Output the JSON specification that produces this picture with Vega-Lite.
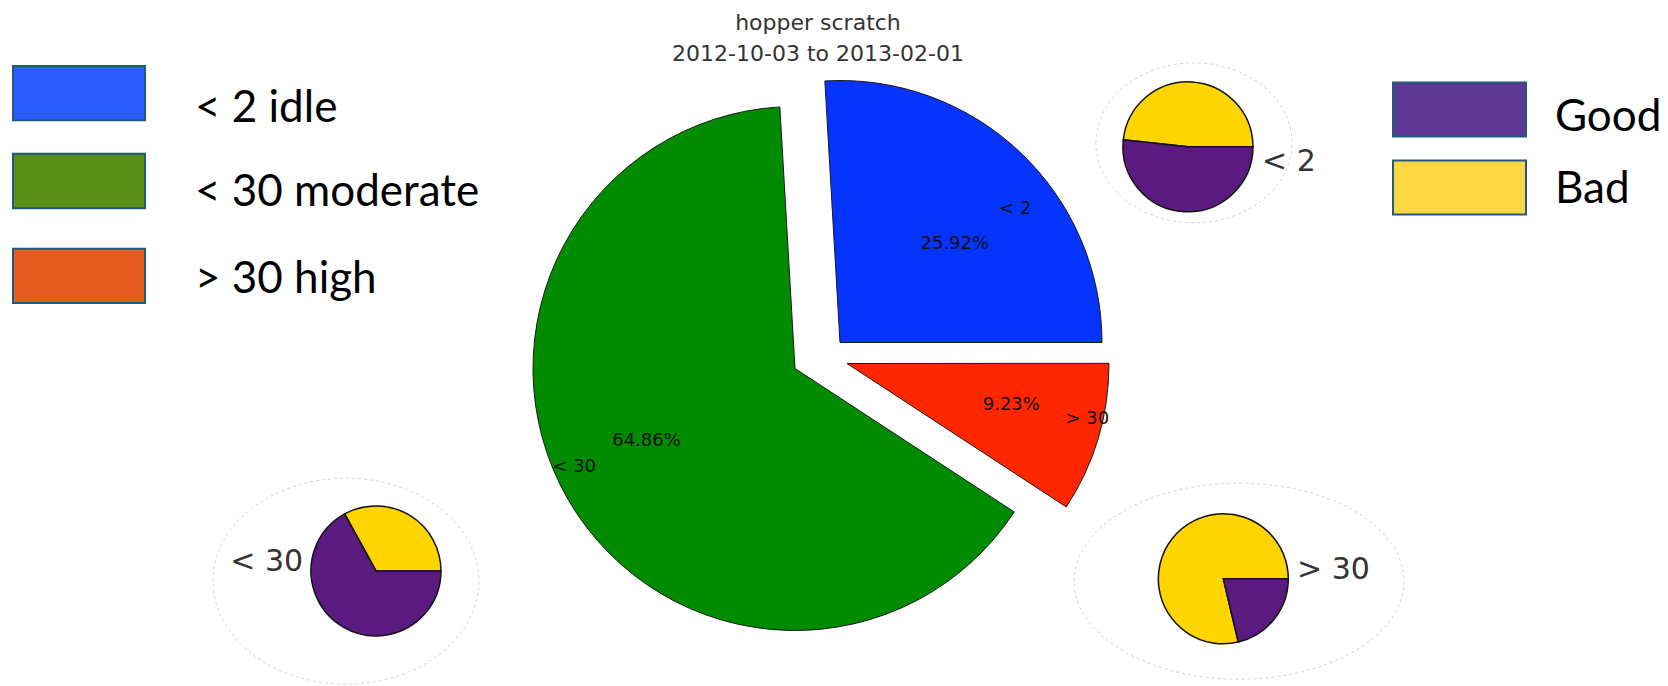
{
  "$schema": "https://vega.github.io/schema/vega-lite/v6.json",
  "width": 1668,
  "height": 686,
  "autosize": {"type": "fit", "contains": "padding"},
  "padding": 0,
  "background": "white",
  "config": {"view": {"stroke": null}},
  "datasets": {
    "main": [
      {"chart": "main", "slice": "< 2", "pct": 25.92, "pctLabel": "25.92%"},
      {"chart": "main", "slice": "< 30", "pct": 64.86, "pctLabel": "64.86%"},
      {"chart": "main", "slice": "> 30", "pct": 9.23, "pctLabel": "9.23%"}
    ],
    "sub": [
      {"chart": "< 2", "slice": "Bad", "pct": 48.3},
      {"chart": "< 2", "slice": "Good", "pct": 51.7},
      {"chart": "< 30", "slice": "Bad", "pct": 33.0},
      {"chart": "< 30", "slice": "Good", "pct": 67.0},
      {"chart": "> 30", "slice": "Bad", "pct": 78.7},
      {"chart": "> 30", "slice": "Good", "pct": 21.3}
    ],
    "legend": [
      {"leg": "L", "label": "< 2 idle"},
      {"leg": "L", "label": "< 30 moderate"},
      {"leg": "L", "label": "> 30 high"},
      {"leg": "R", "label": "Good"},
      {"leg": "R", "label": "Bad"}
    ],
    "title": [
      {"t": "title", "line": "hopper scratch"},
      {"t": "title", "line": "2012-10-03 to 2013-02-01"}
    ]
  },
  "layer": [
    {
      "data": {"name": "sub"},
      "transform": [{"filter": "datum.chart === '< 2' && datum.slice === 'Bad'"}],
      "mark": {"type": "point", "shape": "M-1,0A1,0.816,0,1,1,1,0A1,0.816,0,1,1,-1,0Z", "size": 38416, "filled": false, "stroke": "#d4d4d4", "strokeWidth": 1, "strokeDash": [3, 3], "opacity": 1},
      "encoding": {
        "x": {"field": "chart", "type": "nominal", "scale": {"type": "point", "align": 0.7158, "padding": 0}, "axis": null},
        "y": {"field": "chart", "type": "nominal", "scale": {"type": "point", "align": 0.2085, "padding": 0}, "axis": null}
      }
    },
    {
      "data": {"name": "sub"},
      "transform": [{"filter": "datum.chart === '< 30' && datum.slice === 'Bad'"}],
      "mark": {"type": "point", "shape": "M-1,0A1,0.774,0,1,1,1,0A1,0.774,0,1,1,-1,0Z", "size": 70756, "filled": false, "stroke": "#d4d4d4", "strokeWidth": 1, "strokeDash": [3, 3], "opacity": 1},
      "encoding": {
        "x": {"field": "chart", "type": "nominal", "scale": {"type": "point", "align": 0.2074, "padding": 0}, "axis": null},
        "y": {"field": "chart", "type": "nominal", "scale": {"type": "point", "align": 0.8484, "padding": 0}, "axis": null}
      }
    },
    {
      "data": {"name": "sub"},
      "transform": [{"filter": "datum.chart === '> 30' && datum.slice === 'Bad'"}],
      "mark": {"type": "point", "shape": "M-1,0A1,0.594,0,1,1,1,0A1,0.594,0,1,1,-1,0Z", "size": 108900, "filled": false, "stroke": "#d4d4d4", "strokeWidth": 1, "strokeDash": [3, 3], "opacity": 1},
      "encoding": {
        "x": {"field": "chart", "type": "nominal", "scale": {"type": "point", "align": 0.7428, "padding": 0}, "axis": null},
        "y": {"field": "chart", "type": "nominal", "scale": {"type": "point", "align": 0.8484, "padding": 0}, "axis": null}
      }
    },
    {
      "data": {"name": "main"},
      "mark": {"type": "arc", "radius": 262, "stroke": "#1a1a1a", "strokeWidth": 1, "xOffset": 20, "yOffset": -15},
      "encoding": {
        "theta": {"field": "pct", "type": "quantitative", "stack": true, "scale": {"domain": [0, 100], "range": [1.5708, -4.7124]}},
        "order": {"field": "slice", "type": "ordinal", "sort": "ascending"},
        "x": {"field": "chart", "type": "nominal", "scale": {"type": "point", "align": 0.4916, "padding": 0}, "axis": null},
        "y": {"field": "chart", "type": "nominal", "scale": {"type": "point", "align": 0.5219, "padding": 0}, "axis": null},
        "color": {"field": "slice", "type": "nominal", "scale": {"domain": ["< 2", "< 30", "> 30"], "range": ["#0533ff", "#008b00", "#ff2600"]}, "legend": null},
        "opacity": {"condition": {"test": "datum.slice === '< 2'", "value": 1}, "value": 0}
      }
    },
    {
      "data": {"name": "main"},
      "mark": {"type": "arc", "radius": 262, "stroke": "#1a1a1a", "strokeWidth": 1, "xOffset": -25, "yOffset": 11},
      "encoding": {
        "theta": {"field": "pct", "type": "quantitative", "stack": true, "scale": {"domain": [0, 100], "range": [1.5708, -4.7124]}},
        "order": {"field": "slice", "type": "ordinal", "sort": "ascending"},
        "x": {"field": "chart", "type": "nominal", "scale": {"type": "point", "align": 0.4916, "padding": 0}, "axis": null},
        "y": {"field": "chart", "type": "nominal", "scale": {"type": "point", "align": 0.5219, "padding": 0}, "axis": null},
        "color": {"field": "slice", "type": "nominal", "scale": {"domain": ["< 2", "< 30", "> 30"], "range": ["#0533ff", "#008b00", "#ff2600"]}, "legend": null},
        "opacity": {"condition": {"test": "datum.slice === '< 30'", "value": 1}, "value": 0}
      }
    },
    {
      "data": {"name": "main"},
      "mark": {"type": "arc", "radius": 262, "stroke": "#1a1a1a", "strokeWidth": 1, "xOffset": 27, "yOffset": 6},
      "encoding": {
        "theta": {"field": "pct", "type": "quantitative", "stack": true, "scale": {"domain": [0, 100], "range": [1.5708, -4.7124]}},
        "order": {"field": "slice", "type": "ordinal", "sort": "ascending"},
        "x": {"field": "chart", "type": "nominal", "scale": {"type": "point", "align": 0.4916, "padding": 0}, "axis": null},
        "y": {"field": "chart", "type": "nominal", "scale": {"type": "point", "align": 0.5219, "padding": 0}, "axis": null},
        "color": {"field": "slice", "type": "nominal", "scale": {"domain": ["< 2", "< 30", "> 30"], "range": ["#0533ff", "#008b00", "#ff2600"]}, "legend": null},
        "opacity": {"condition": {"test": "datum.slice === '> 30'", "value": 1}, "value": 0}
      }
    },
    {
      "data": {"name": "main"},
      "mark": {"type": "text", "radius": 160, "font": "DejaVu Sans", "fontSize": 18, "color": "#111", "xOffset": 25, "yOffset": 3},
      "encoding": {
        "theta": {"field": "pct", "type": "quantitative", "stack": true, "scale": {"domain": [0, 100], "range": [1.5708, -4.7124]}},
        "order": {"field": "slice", "type": "ordinal", "sort": "ascending"},
        "x": {"field": "chart", "type": "nominal", "scale": {"type": "point", "align": 0.4916, "padding": 0}, "axis": null},
        "y": {"field": "chart", "type": "nominal", "scale": {"type": "point", "align": 0.5219, "padding": 0}, "axis": null},
        "text": {"field": "pctLabel"},
        "opacity": {"condition": {"test": "datum.slice === '< 2'", "value": 1}, "value": 0}
      }
    },
    {
      "data": {"name": "main"},
      "mark": {"type": "text", "radius": 160, "font": "DejaVu Sans", "fontSize": 18, "color": "#111", "xOffset": -35, "yOffset": 3},
      "encoding": {
        "theta": {"field": "pct", "type": "quantitative", "stack": true, "scale": {"domain": [0, 100], "range": [1.5708, -4.7124]}},
        "order": {"field": "slice", "type": "ordinal", "sort": "ascending"},
        "x": {"field": "chart", "type": "nominal", "scale": {"type": "point", "align": 0.4916, "padding": 0}, "axis": null},
        "y": {"field": "chart", "type": "nominal", "scale": {"type": "point", "align": 0.5219, "padding": 0}, "axis": null},
        "text": {"field": "pctLabel"},
        "opacity": {"condition": {"test": "datum.slice === '< 30'", "value": 1}, "value": 0}
      }
    },
    {
      "data": {"name": "main"},
      "mark": {"type": "text", "radius": 160, "font": "DejaVu Sans", "fontSize": 18, "color": "#111", "xOffset": 38, "yOffset": 2},
      "encoding": {
        "theta": {"field": "pct", "type": "quantitative", "stack": true, "scale": {"domain": [0, 100], "range": [1.5708, -4.7124]}},
        "order": {"field": "slice", "type": "ordinal", "sort": "ascending"},
        "x": {"field": "chart", "type": "nominal", "scale": {"type": "point", "align": 0.4916, "padding": 0}, "axis": null},
        "y": {"field": "chart", "type": "nominal", "scale": {"type": "point", "align": 0.5219, "padding": 0}, "axis": null},
        "text": {"field": "pctLabel"},
        "opacity": {"condition": {"test": "datum.slice === '> 30'", "value": 1}, "value": 0}
      }
    },
    {
      "data": {"name": "main"},
      "mark": {"type": "text", "radius": 232, "font": "DejaVu Sans", "fontSize": 18, "color": "#111", "xOffset": 36, "yOffset": 20},
      "encoding": {
        "theta": {"field": "pct", "type": "quantitative", "stack": true, "scale": {"domain": [0, 100], "range": [1.5708, -4.7124]}},
        "order": {"field": "slice", "type": "ordinal", "sort": "ascending"},
        "x": {"field": "chart", "type": "nominal", "scale": {"type": "point", "align": 0.4916, "padding": 0}, "axis": null},
        "y": {"field": "chart", "type": "nominal", "scale": {"type": "point", "align": 0.5219, "padding": 0}, "axis": null},
        "text": {"field": "slice"},
        "opacity": {"condition": {"test": "datum.slice === '< 2'", "value": 1}, "value": 0}
      }
    },
    {
      "data": {"name": "main"},
      "mark": {"type": "text", "radius": 232, "font": "DejaVu Sans", "fontSize": 18, "color": "#111", "xOffset": -45, "yOffset": -7},
      "encoding": {
        "theta": {"field": "pct", "type": "quantitative", "stack": true, "scale": {"domain": [0, 100], "range": [1.5708, -4.7124]}},
        "order": {"field": "slice", "type": "ordinal", "sort": "ascending"},
        "x": {"field": "chart", "type": "nominal", "scale": {"type": "point", "align": 0.4916, "padding": 0}, "axis": null},
        "y": {"field": "chart", "type": "nominal", "scale": {"type": "point", "align": 0.5219, "padding": 0}, "axis": null},
        "text": {"field": "slice"},
        "opacity": {"condition": {"test": "datum.slice === '< 30'", "value": 1}, "value": 0}
      }
    },
    {
      "data": {"name": "main"},
      "mark": {"type": "text", "radius": 232, "font": "DejaVu Sans", "fontSize": 18, "color": "#111", "xOffset": 45, "yOffset": -5},
      "encoding": {
        "theta": {"field": "pct", "type": "quantitative", "stack": true, "scale": {"domain": [0, 100], "range": [1.5708, -4.7124]}},
        "order": {"field": "slice", "type": "ordinal", "sort": "ascending"},
        "x": {"field": "chart", "type": "nominal", "scale": {"type": "point", "align": 0.4916, "padding": 0}, "axis": null},
        "y": {"field": "chart", "type": "nominal", "scale": {"type": "point", "align": 0.5219, "padding": 0}, "axis": null},
        "text": {"field": "slice"},
        "opacity": {"condition": {"test": "datum.slice === '> 30'", "value": 1}, "value": 0}
      }
    },
    {
      "data": {"name": "sub"},
      "transform": [{"filter": "datum.chart === '< 2'"}],
      "mark": {"type": "arc", "radius": 65, "stroke": "#111", "strokeWidth": 1.5},
      "encoding": {
        "theta": {"field": "pct", "type": "quantitative", "stack": true, "scale": {"domain": [0, 100], "range": [1.5708, -4.7124]}},
        "order": {"field": "slice", "type": "ordinal", "sort": "ascending"},
        "x": {"field": "chart", "type": "nominal", "scale": {"type": "point", "align": 0.7122, "padding": 0}, "axis": null},
        "y": {"field": "chart", "type": "nominal", "scale": {"type": "point", "align": 0.2143, "padding": 0}, "axis": null},
        "color": {"field": "slice", "type": "nominal", "scale": {"domain": ["Good", "Bad"], "range": ["#5a1a80", "#ffd500"]}, "legend": null}
      }
    },
    {
      "data": {"name": "sub"},
      "transform": [{"filter": "datum.chart === '< 30'"}],
      "mark": {"type": "arc", "radius": 65, "stroke": "#111", "strokeWidth": 1.5},
      "encoding": {
        "theta": {"field": "pct", "type": "quantitative", "stack": true, "scale": {"domain": [0, 100], "range": [1.5708, -4.7124]}},
        "order": {"field": "slice", "type": "ordinal", "sort": "ascending"},
        "x": {"field": "chart", "type": "nominal", "scale": {"type": "point", "align": 0.2254, "padding": 0}, "axis": null},
        "y": {"field": "chart", "type": "nominal", "scale": {"type": "point", "align": 0.8334, "padding": 0}, "axis": null},
        "color": {"field": "slice", "type": "nominal", "scale": {"domain": ["Good", "Bad"], "range": ["#5a1a80", "#ffd500"]}, "legend": null}
      }
    },
    {
      "data": {"name": "sub"},
      "transform": [{"filter": "datum.chart === '> 30'"}],
      "mark": {"type": "arc", "radius": 65, "stroke": "#111", "strokeWidth": 1.5},
      "encoding": {
        "theta": {"field": "pct", "type": "quantitative", "stack": true, "scale": {"domain": [0, 100], "range": [1.5708, -4.7124]}},
        "order": {"field": "slice", "type": "ordinal", "sort": "ascending"},
        "x": {"field": "chart", "type": "nominal", "scale": {"type": "point", "align": 0.7334, "padding": 0}, "axis": null},
        "y": {"field": "chart", "type": "nominal", "scale": {"type": "point", "align": 0.845, "padding": 0}, "axis": null},
        "color": {"field": "slice", "type": "nominal", "scale": {"domain": ["Good", "Bad"], "range": ["#5a1a80", "#ffd500"]}, "legend": null}
      }
    },
    {
      "data": {"name": "sub"},
      "transform": [{"filter": "datum.chart === '< 2' && datum.slice === 'Bad'"}],
      "mark": {"type": "text", "align": "left", "font": "DejaVu Sans", "fontSize": 30, "color": "#333"},
      "encoding": {
        "x": {"field": "chart", "type": "nominal", "scale": {"type": "point", "align": 0.7566, "padding": 0}, "axis": null},
        "y": {"field": "chart", "type": "nominal", "scale": {"type": "point", "align": 0.2362, "padding": 0}, "axis": null},
        "text": {"field": "chart"}
      }
    },
    {
      "data": {"name": "sub"},
      "transform": [{"filter": "datum.chart === '< 30' && datum.slice === 'Bad'"}],
      "mark": {"type": "text", "align": "right", "font": "DejaVu Sans", "fontSize": 30, "color": "#333"},
      "encoding": {
        "x": {"field": "chart", "type": "nominal", "scale": {"type": "point", "align": 0.1817, "padding": 0}, "axis": null},
        "y": {"field": "chart", "type": "nominal", "scale": {"type": "point", "align": 0.8207, "padding": 0}, "axis": null},
        "text": {"field": "chart"}
      }
    },
    {
      "data": {"name": "sub"},
      "transform": [{"filter": "datum.chart === '> 30' && datum.slice === 'Bad'"}],
      "mark": {"type": "text", "align": "left", "font": "DejaVu Sans", "fontSize": 30, "color": "#333"},
      "encoding": {
        "x": {"field": "chart", "type": "nominal", "scale": {"type": "point", "align": 0.7776, "padding": 0}, "axis": null},
        "y": {"field": "chart", "type": "nominal", "scale": {"type": "point", "align": 0.8316, "padding": 0}, "axis": null},
        "text": {"field": "chart"}
      }
    },
    {
      "data": {"name": "legend"},
      "transform": [{"filter": "datum.label === '< 2 idle'"}],
      "mark": {"type": "rect", "stroke": "#215a7a", "strokeWidth": 2},
      "encoding": {
        "x": {"field": "leg", "type": "nominal", "scale": {"type": "band", "paddingInner": 0.82812, "paddingOuter": 1, "align": 0.008464}, "axis": null},
        "y": {"field": "label", "type": "nominal", "scale": {"type": "band", "paddingInner": 0.82739, "paddingOuter": 1, "align": 0.10451}, "axis": null},
        "color": {"field": "label", "type": "nominal", "scale": {"domain": ["< 2 idle", "< 30 moderate", "> 30 high"], "range": ["#2b5cff", "#5a8f17", "#e45d1f"]}, "legend": null}
      }
    },
    {
      "data": {"name": "legend"},
      "transform": [{"filter": "datum.label === '< 30 moderate'"}],
      "mark": {"type": "rect", "stroke": "#215a7a", "strokeWidth": 2},
      "encoding": {
        "x": {"field": "leg", "type": "nominal", "scale": {"type": "band", "paddingInner": 0.82812, "paddingOuter": 1, "align": 0.008464}, "axis": null},
        "y": {"field": "label", "type": "nominal", "scale": {"type": "band", "paddingInner": 0.82739, "paddingOuter": 1, "align": 0.24386}, "axis": null},
        "color": {"field": "label", "type": "nominal", "scale": {"domain": ["< 2 idle", "< 30 moderate", "> 30 high"], "range": ["#2b5cff", "#5a8f17", "#e45d1f"]}, "legend": null}
      }
    },
    {
      "data": {"name": "legend"},
      "transform": [{"filter": "datum.label === '> 30 high'"}],
      "mark": {"type": "rect", "stroke": "#215a7a", "strokeWidth": 2},
      "encoding": {
        "x": {"field": "leg", "type": "nominal", "scale": {"type": "band", "paddingInner": 0.82812, "paddingOuter": 1, "align": 0.008464}, "axis": null},
        "y": {"field": "label", "type": "nominal", "scale": {"type": "band", "paddingInner": 0.82739, "paddingOuter": 1, "align": 0.3943}, "axis": null},
        "color": {"field": "label", "type": "nominal", "scale": {"domain": ["< 2 idle", "< 30 moderate", "> 30 high"], "range": ["#2b5cff", "#5a8f17", "#e45d1f"]}, "legend": null}
      }
    },
    {
      "data": {"name": "legend"},
      "transform": [{"filter": "datum.label === '< 2 idle'"}],
      "mark": {"type": "text", "align": "left", "font": "Lato", "fontSize": 44, "color": "#000"},
      "encoding": {
        "x": {"field": "leg", "type": "nominal", "scale": {"type": "point", "align": 0.1169, "padding": 0}, "axis": null},
        "y": {"field": "label", "type": "nominal", "scale": {"type": "point", "align": 0.1589, "padding": 0}, "axis": null},
        "text": {"field": "label"}
      }
    },
    {
      "data": {"name": "legend"},
      "transform": [{"filter": "datum.label === '< 30 moderate'"}],
      "mark": {"type": "text", "align": "left", "font": "Lato", "fontSize": 44, "color": "#000"},
      "encoding": {
        "x": {"field": "leg", "type": "nominal", "scale": {"type": "point", "align": 0.1169, "padding": 0}, "axis": null},
        "y": {"field": "label", "type": "nominal", "scale": {"type": "point", "align": 0.2813, "padding": 0}, "axis": null},
        "text": {"field": "label"}
      }
    },
    {
      "data": {"name": "legend"},
      "transform": [{"filter": "datum.label === '> 30 high'"}],
      "mark": {"type": "text", "align": "left", "font": "Lato", "fontSize": 44, "color": "#000"},
      "encoding": {
        "x": {"field": "leg", "type": "nominal", "scale": {"type": "point", "align": 0.1169, "padding": 0}, "axis": null},
        "y": {"field": "label", "type": "nominal", "scale": {"type": "point", "align": 0.4082, "padding": 0}, "axis": null},
        "text": {"field": "label"}
      }
    },
    {
      "data": {"name": "legend"},
      "transform": [{"filter": "datum.label === 'Good'"}],
      "mark": {"type": "rect", "stroke": "#215a7a", "strokeWidth": 2},
      "encoding": {
        "x": {"field": "leg", "type": "nominal", "scale": {"type": "band", "paddingInner": 0.82671, "paddingOuter": 1, "align": 0.90749}, "axis": null},
        "y": {"field": "label", "type": "nominal", "scale": {"type": "band", "paddingInner": 0.82911, "paddingOuter": 1, "align": 0.13085}, "axis": null},
        "color": {"field": "label", "type": "nominal", "scale": {"domain": ["Good", "Bad"], "range": ["#5e3894", "#ffd743"]}, "legend": null}
      }
    },
    {
      "data": {"name": "legend"},
      "transform": [{"filter": "datum.label === 'Bad'"}],
      "mark": {"type": "rect", "stroke": "#215a7a", "strokeWidth": 2},
      "encoding": {
        "x": {"field": "leg", "type": "nominal", "scale": {"type": "band", "paddingInner": 0.82671, "paddingOuter": 1, "align": 0.90749}, "axis": null},
        "y": {"field": "label", "type": "nominal", "scale": {"type": "band", "paddingInner": 0.82911, "paddingOuter": 1, "align": 0.25427}, "axis": null},
        "color": {"field": "label", "type": "nominal", "scale": {"domain": ["Good", "Bad"], "range": ["#5e3894", "#ffd743"]}, "legend": null}
      }
    },
    {
      "data": {"name": "legend"},
      "transform": [{"filter": "datum.label === 'Good'"}],
      "mark": {"type": "text", "align": "left", "font": "Lato", "fontSize": 44, "color": "#000"},
      "encoding": {
        "x": {"field": "leg", "type": "nominal", "scale": {"type": "point", "align": 0.93225, "padding": 0}, "axis": null},
        "y": {"field": "label", "type": "nominal", "scale": {"type": "point", "align": 0.17172, "padding": 0}, "axis": null},
        "text": {"field": "label"}
      }
    },
    {
      "data": {"name": "legend"},
      "transform": [{"filter": "datum.label === 'Bad'"}],
      "mark": {"type": "text", "align": "left", "font": "Lato", "fontSize": 44, "color": "#000"},
      "encoding": {
        "x": {"field": "leg", "type": "nominal", "scale": {"type": "point", "align": 0.93225, "padding": 0}, "axis": null},
        "y": {"field": "label", "type": "nominal", "scale": {"type": "point", "align": 0.27741, "padding": 0}, "axis": null},
        "text": {"field": "label"}
      }
    },
    {
      "data": {"name": "title"},
      "transform": [{"filter": "datum.line === 'hopper scratch'"}],
      "mark": {"type": "text", "align": "center", "font": "DejaVu Sans", "fontSize": 22, "color": "#333"},
      "encoding": {
        "x": {"field": "t", "type": "nominal", "scale": {"type": "point", "align": 0.4904, "padding": 0}, "axis": null},
        "y": {"field": "line", "type": "nominal", "scale": {"type": "point", "align": 0.03353, "padding": 0}, "axis": null},
        "text": {"field": "line"}
      }
    },
    {
      "data": {"name": "title"},
      "transform": [{"filter": "datum.line === '2012-10-03 to 2013-02-01'"}],
      "mark": {"type": "text", "align": "center", "font": "DejaVu Sans", "fontSize": 22, "color": "#333"},
      "encoding": {
        "x": {"field": "t", "type": "nominal", "scale": {"type": "point", "align": 0.4904, "padding": 0}, "axis": null},
        "y": {"field": "line", "type": "nominal", "scale": {"type": "point", "align": 0.0794, "padding": 0}, "axis": null},
        "text": {"field": "line"}
      }
    }
  ],
  "resolve": {"scale": {"x": "independent", "y": "independent", "theta": "independent", "color": "independent"}}
}
